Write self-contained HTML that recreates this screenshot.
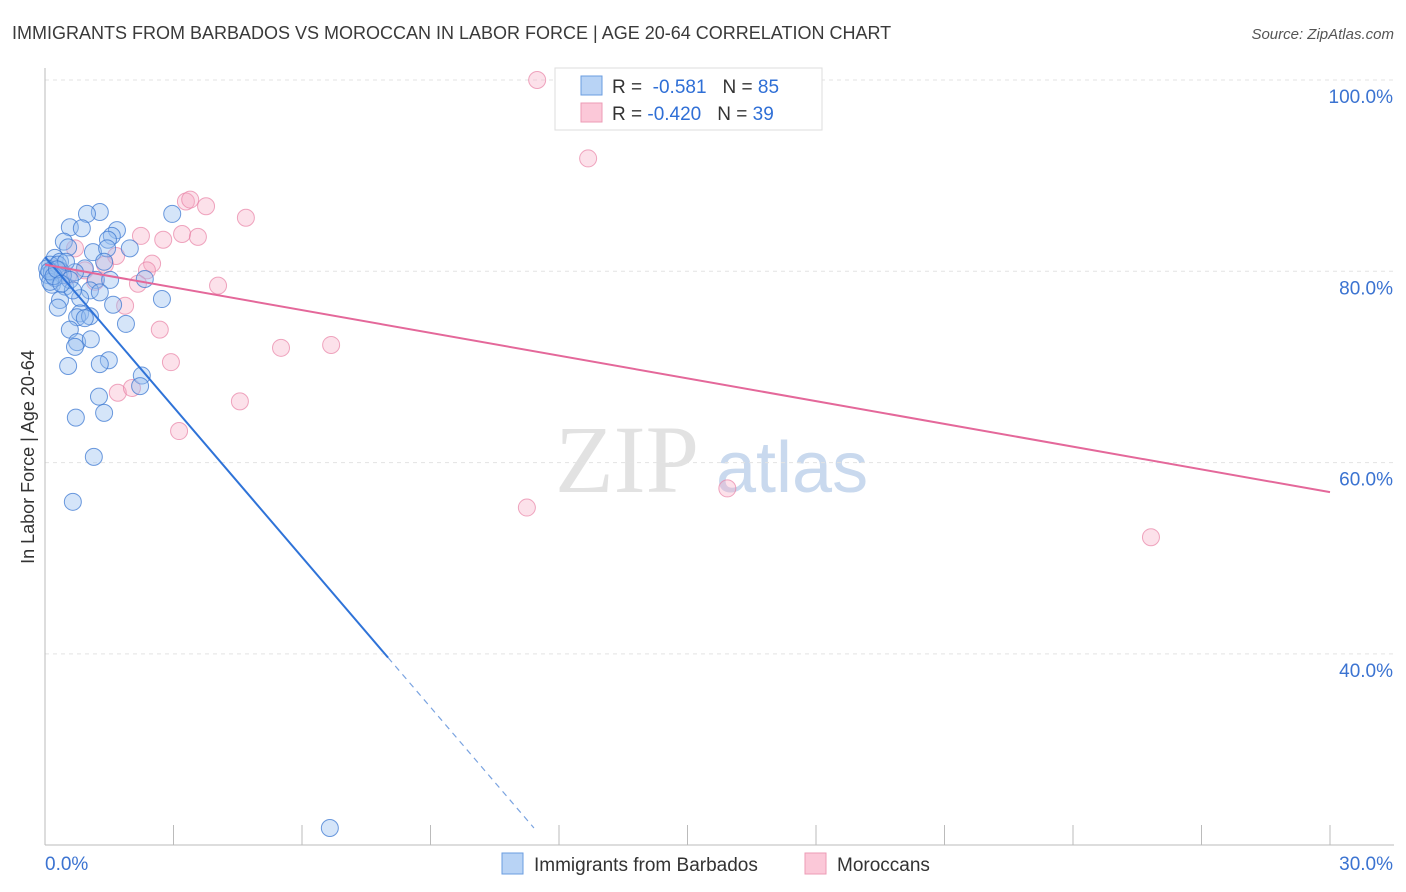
<!DOCTYPE html>
<html><head><meta charset="utf-8"><style>
body{margin:0;background:#fff;font-family:"Liberation Sans",sans-serif;}
#wrap{position:relative;width:1406px;height:892px;overflow:hidden;}
</style></head><body>
<div id="wrap">
<svg id="svg" width="1406" height="892" xmlns="http://www.w3.org/2000/svg">
<text x="12" y="39" font-size="18" fill="#3a3a3a">IMMIGRANTS FROM BARBADOS VS MOROCCAN IN LABOR FORCE | AGE 20-64 CORRELATION CHART</text>
<text x="1394" y="39" font-size="15" fill="#555" text-anchor="end" font-style="italic">Source: ZipAtlas.com</text>
<text x="34" y="457" font-size="18" fill="#333" text-anchor="middle" transform="rotate(-90 34 457)">In Labor Force | Age 20-64</text>
<text x="555" y="492" font-size="96" fill="#e2e2e2" font-family="Liberation Serif,serif">ZIP</text>
<text x="716" y="492" font-size="72" fill="#c9d9ee">atlas</text>
<g id="grid"></g><g id="axes"></g><g id="pts"></g><g id="lines"></g>
<g>
<rect x="555" y="68" width="267" height="62" fill="#fff" stroke="#ddd"/>
<rect x="581" y="76" width="21" height="19" fill="#b8d3f5" stroke="#6a9de0"/>
<rect x="581" y="103" width="21" height="19" fill="#fbc8d8" stroke="#ec9bb6"/>
<text x="612" y="93" font-size="19" fill="#333">R = <tspan fill="#2f6fd6">&#160;-0.581</tspan><tspan dx="16">N = </tspan><tspan fill="#2f6fd6">85</tspan></text>
<text x="612" y="120" font-size="19" fill="#333">R = <tspan fill="#2f6fd6">-0.420</tspan><tspan dx="16">N = </tspan><tspan fill="#2f6fd6">39</tspan></text>
</g>
<g>
<rect x="502" y="853" width="21" height="21" fill="#b8d3f5" stroke="#6a9de0"/>
<text x="534" y="871" font-size="19" fill="#333">Immigrants from Barbados</text>
<rect x="805" y="853" width="21" height="21" fill="#fbc8d8" stroke="#ec9bb6"/>
<text x="837" y="871" font-size="19" fill="#333">Moroccans</text>
</g>
</svg>
</div>
<script>
const yTicks=[100,80,60,40];
const yTickLabels=["100.0%","80.0%","60.0%","40.0%"];
const blueX=[1.28,0.98,0.58,0.86,1.68,1.56,1.47,0.44,0.54,1.12,1.45,0.23,0.35,0.12,1.38,0.93,0.35,0.07,0.70,1.19,1.52,2.33,0.16,0.47,1.05,1.28,0.82,0.35,2.73,1.59,0.30,0.82,0.75,1.05,0.93,1.89,0.58,0.75,0.70,1.07,1.49,1.28,0.54,2.26,2.22,1.26,1.38,0.72,1.14,0.65,6.65,0.05,0.16,0.23,0.30,0.42,0.12,0.49,0.58,0.65,2.97,1.98,0.10,0.20,0.28,0.38];
const blueY=[86.2,86.0,84.6,84.5,84.3,83.7,83.3,83.1,82.5,82.0,82.4,81.4,81.0,80.7,81.0,80.3,80.1,79.6,79.9,79.1,79.1,79.2,78.6,78.4,78.0,77.8,77.2,77.0,77.1,76.5,76.2,75.6,75.2,75.3,75.1,74.5,73.9,72.6,72.1,72.9,70.7,70.3,70.1,69.1,68.0,66.9,65.2,64.7,60.6,55.9,21.8,80.3,79.9,79.3,80.7,79.6,78.9,81.0,79.1,78.0,86.0,82.4,80.0,79.5,80.2,78.7];
const pinkX=[11.49,12.68,3.29,3.39,3.76,4.69,2.24,2.76,3.20,3.57,0.70,1.66,2.50,2.38,1.40,0.40,2.17,4.04,1.87,2.68,5.51,6.68,2.94,1.70,2.03,4.55,3.13,15.93,11.25,25.82,0.93,1.17,0.23,0.54];
const pinkY=[100,91.8,87.3,87.5,86.8,85.6,83.7,83.3,83.9,83.6,82.4,81.6,80.8,80.1,80.7,79.9,78.7,78.5,76.4,73.9,72.0,72.3,70.5,67.3,67.8,66.4,63.3,57.3,55.3,52.2,80.1,78.9,80.3,79.5];
const blueFit=[81.5,-5.23]; // intercept, slope per %
const pinkFit=[80.7,-0.793];
const NS="http://www.w3.org/2000/svg";
const X=v=>45+v/30*1285, Y=v=>80+(100-v)/20*191.3;
function mk(t,a,p){const e=document.createElementNS(NS,t);for(const k in a)e.setAttribute(k,a[k]);p.appendChild(e);return e;}
const grid=document.getElementById('grid'),axes=document.getElementById('axes'),pts=document.getElementById('pts'),lines=document.getElementById('lines');
yTicks.forEach((t,i)=>{
 const g=mk('line',{x1:45,x2:1394,y1:Y(t),y2:Y(t),stroke:'#e3e3e3','stroke-dasharray':'4,4'},grid);
 
 
 const l=mk('text',{x:1393,y:Y(t)+23,'font-size':19,fill:'#3b73d1','text-anchor':'end'},axes);
 l.textContent=yTickLabels[i];
 
 
});
mk('line',{x1:45,x2:45,y1:68,y2:845,stroke:'#bbb'},axes);
mk('line',{x1:45,x2:1394,y1:845,y2:845,stroke:'#bbb'},axes);
for(let i=0;i<=10;i++){mk('line',{x1:X(i*3),x2:X(i*3),y1:825,y2:845,stroke:'#bbb'},axes);}
const x0=mk('text',{x:45,y:870,'font-size':19,fill:'#3b73d1'},axes);x0.textContent='0.0%';


const x1=mk('text',{x:1393,y:870,'font-size':19,fill:'#3b73d1','text-anchor':'end'},axes);x1.textContent='30.0%';


pinkX.forEach((v,i)=>{const c=mk('circle',{cx:X(v),cy:Y(pinkY[i]),r:8.5,fill:'rgba(247,170,196,0.35)',stroke:'rgba(232,130,165,0.7)','stroke-width':1},pts);
 
 });
blueX.forEach((v,i)=>{const c=mk('circle',{cx:X(v),cy:Y(blueY[i]),r:8.5,fill:'rgba(150,190,240,0.4)',stroke:'rgba(60,120,210,0.75)','stroke-width':1},pts);
 
 });
const bf=x=>blueFit[0]+blueFit[1]*x, pf=x=>pinkFit[0]+pinkFit[1]*x;
const xs=8.01, xe=(21.8-blueFit[0])/blueFit[1];
const b1=mk('line',{x1:X(0),y1:Y(bf(0)),x2:X(xs),y2:Y(bf(xs)),stroke:'#2f73d8','stroke-width':2},lines);


const b2=mk('line',{x1:X(xs),y1:Y(bf(xs)),x2:X(xe),y2:Y(bf(xe)),stroke:'#7aa3e0','stroke-width':1.2,'stroke-dasharray':'6,5'},lines);


const p1=mk('line',{x1:X(0),y1:Y(pf(0)),x2:X(30),y2:Y(pf(30)),stroke:'#e4689a','stroke-width':2},lines);


</script>
</body></html>
